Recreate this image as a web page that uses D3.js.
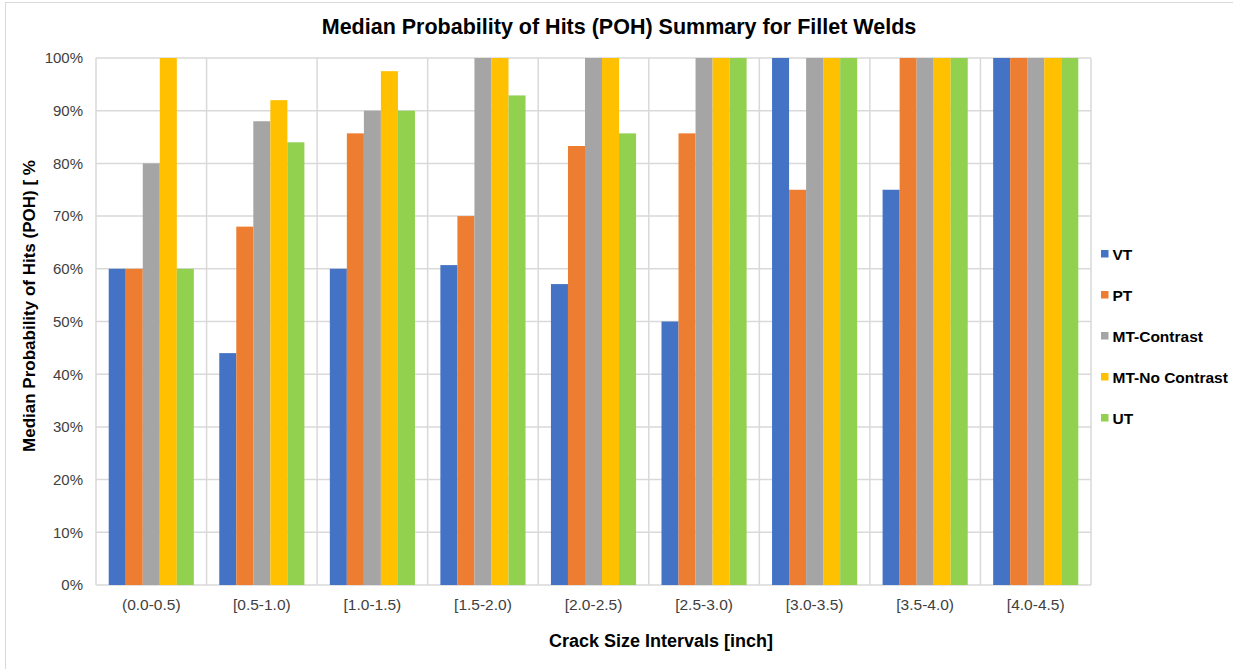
<!DOCTYPE html>
<html>
<head>
<meta charset="utf-8">
<script src="https://cdn.jsdelivr.net/npm/d3@7"></script>
<style>
  html, body { margin: 0; padding: 0; background: #fff; }
  svg { display: block; font-family: "Liberation Sans", Arial, sans-serif; }
</style>
</head>
<body>
<svg id="chart" width="1233" height="669"></svg>
<script>
// Crack size intervals (categories)
const categories = ["(0.0-0.5)", "[0.5-1.0)", "[1.0-1.5)", "[1.5-2.0)", "[2.0-2.5)",
                    "[2.5-3.0)", "[3.0-3.5)", "[3.5-4.0)", "[4.0-4.5)"];

// Median POH per inspection method, in percent
const seriesNames = ["VT", "PT", "MT-Contrast", "MT-No Contrast", "UT"];
const vt   = [60, 44, 60, 60.7, 57.1, 50, 100, 75, 100];
const pt   = [60, 68, 85.7, 70, 83.3, 85.7, 75, 100, 100];
const mtC  = [80, 88, 90, 100, 100, 100, 100, 100, 100];
const mtNC = [100, 92, 97.5, 100, 100, 100, 100, 100, 100];
const ut   = [60, 84, 90, 92.9, 85.7, 100, 100, 100, 100];
const yTicks = [0, 10, 20, 30, 40, 50, 60, 70, 80, 90, 100];

const seriesValues = [vt, pt, mtC, mtNC, ut];
const colors = ["#4472C4", "#ED7D31", "#A5A5A5", "#FFC000", "#92D050"];

const svg = d3.select("#chart");
const W = 1233, H = 669;
const plot = { left: 96, right: 1091, top: 58, bottom: 585 };

// outer chart border
svg.append("rect")
  .attr("x", 5.5).attr("y", 2.5).attr("width", W + 10).attr("height", H + 10)
  .attr("fill", "none").attr("stroke", "#d9d9d9").attr("stroke-width", 1);

const x0 = d3.scaleBand().domain(categories).range([plot.left, plot.right]).paddingInner(0).paddingOuter(0);
const bw = x0.bandwidth();
const x1 = d3.scaleBand().domain(seriesNames)
  .range([bw * 0.115, bw * 0.885]).paddingInner(0).paddingOuter(0);
const y = d3.scaleLinear().domain([0, 100]).range([plot.bottom, plot.top]);

// horizontal gridlines
svg.append("g").selectAll("line").data(yTicks).join("line")
  .attr("x1", plot.left).attr("x2", plot.right)
  .attr("y1", d => y(d)).attr("y2", d => y(d))
  .attr("stroke", "#d9d9d9").attr("stroke-width", 1.5);

// vertical gridlines at category boundaries
const bounds = categories.map(c => x0(c)).concat([plot.right]);
svg.append("g").selectAll("line").data(bounds).join("line")
  .attr("x1", d => d).attr("x2", d => d)
  .attr("y1", plot.top).attr("y2", plot.bottom)
  .attr("stroke", "#d9d9d9").attr("stroke-width", 1.5);

// bars
const groups = svg.append("g").selectAll("g").data(categories).join("g")
  .attr("transform", c => `translate(${x0(c)},0)`);
groups.selectAll("rect")
  .data((c, i) => seriesNames.map((s, k) => ({ s, k, v: seriesValues[k][i] })))
  .join("rect")
  .attr("x", d => x1(d.s))
  .attr("width", x1.bandwidth())
  .attr("y", d => y(d.v))
  .attr("height", d => y(0) - y(d.v))
  .attr("fill", d => colors[d.k]);

// y axis labels
const yAxis = d3.axisLeft(y).tickValues(yTicks).tickFormat(d => d + "%").tickSize(0).tickPadding(13);
const gy = svg.append("g").attr("transform", `translate(${plot.left},0)`).call(yAxis);
gy.select(".domain").remove();
gy.selectAll("text").attr("font-size", 15).attr("fill", "#404040")
  .attr("font-family", "'Liberation Sans', Arial, sans-serif");

// x axis labels
const xAxis = d3.axisBottom(x0).tickSize(0).tickPadding(14);
const gx = svg.append("g").attr("transform", `translate(0,${plot.bottom})`).call(xAxis);
gx.select(".domain").remove();
gx.selectAll("text").attr("font-size", 15.5).attr("fill", "#404040")
  .attr("font-family", "'Liberation Sans', Arial, sans-serif");

// titles
svg.append("text").attr("x", 619).attr("y", 34).attr("text-anchor", "middle")
  .attr("font-size", 21.5).attr("font-weight", "bold").attr("fill", "#000")
  .text("Median Probability of Hits (POH) Summary for Fillet Welds");
svg.append("text").attr("x", 661).attr("y", 647).attr("text-anchor", "middle")
  .attr("font-size", 18).attr("font-weight", "bold").attr("fill", "#000")
  .text("Crack Size Intervals [inch]");
svg.append("text").attr("transform", `translate(35,306) rotate(-90)`)
  .attr("text-anchor", "middle")
  .attr("font-size", 17).attr("font-weight", "bold").attr("fill", "#000")
  .text("Median Probability of Hits (POH) [ %");

// legend
const legend = svg.append("g").selectAll("g").data(seriesNames).join("g")
  .attr("transform", (d, i) => `translate(1101,${254 + i * 41})`);
legend.append("rect").attr("x", 0).attr("y", -4).attr("width", 7.5).attr("height", 7.5)
  .attr("fill", (d, i) => colors[i]);
legend.append("text").attr("x", 11.5).attr("y", 5.5)
  .attr("font-size", 15.5).attr("font-weight", "bold").attr("fill", "#000")
  .text(d => d);
</script>
</body>
</html>
